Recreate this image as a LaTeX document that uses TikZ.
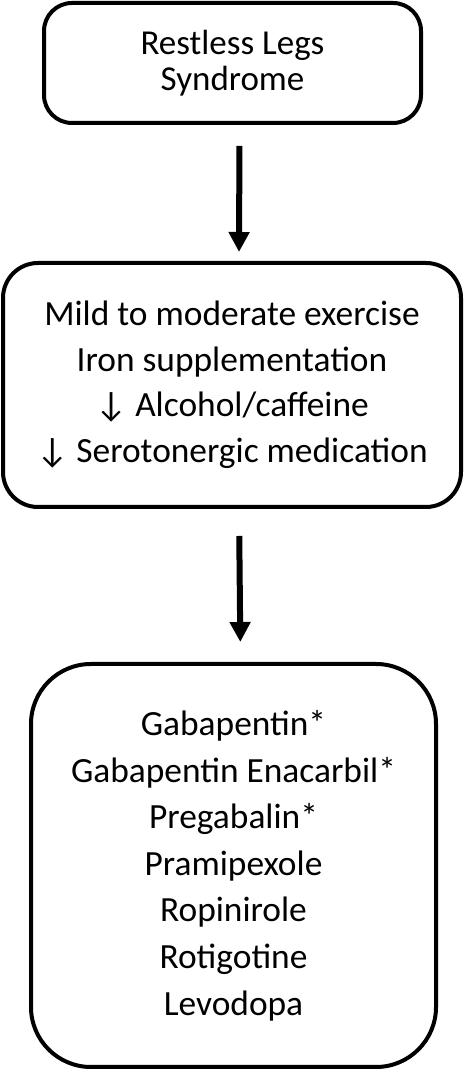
\documentclass[tikz,border=0pt]{standalone}
\usepackage{fontspec}
\setmainfont{Carlito}
\usetikzlibrary{arrows.meta}
\tikzset{
  box/.style={draw, line width=2pt, outer sep=1pt, inner sep=0pt, align=center},
  flow/.style={line width=3pt, -{Triangle[length=10pt,width=10pt]}}
}
\begin{document}
\begin{tikzpicture}
  \useasboundingbox (0,0) rectangle (232pt,535pt);
  \draw
    (116.25pt,503.5pt) node[box, rounded corners=14pt, minimum width=188.5pt, minimum height=60pt,
      font=\fontsize{17.5}{18}\selectfont] (rls) {Restless Legs\\Syndrome}
    (116pt,342.5pt) node[box, rounded corners=17.5pt, minimum width=229pt, minimum height=122pt,
      font=\fontsize{17.7}{22.75}\selectfont] (life) {Mild to moderate exercise\\Iron supplementation\\↓ Alcohol/caffeine\\↓ Serotonergic medication}
    (116.75pt,102.25pt) node[box, rounded corners=30pt, minimum width=202.5pt, minimum height=201.5pt,
      font=\fontsize{17.7}{23.3}\selectfont] (drugs) {Gabapentin*\\Gabapentin Enacarbil*\\Pregabalin*\\Pramipexole\\Ropinirole\\Rotigotine\\Levodopa};
  \begin{scope}[flow]
    \draw[shorten <=10.5pt, shorten >=4.5pt] ([xshift=3.5pt]rls.south) to ([xshift=3.5pt]life.north);
    \draw[shorten <=13.5pt, shorten >=10pt] ([xshift=3.5pt]life.south) to ([xshift=3.5pt]drugs.north);
  \end{scope}
\end{tikzpicture}
\end{document}
